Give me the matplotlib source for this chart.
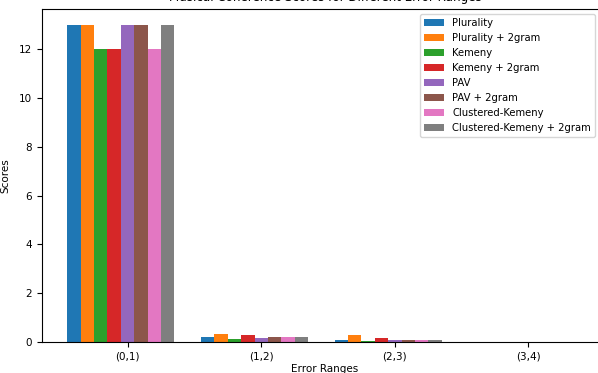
import matplotlib
matplotlib.use("Agg")
import matplotlib.pyplot as plt
import numpy as np

ranges = ["(0,1)", "(1,2)", "(2,3)", "(3,4)"]
methods = ["Plurality", "Plurality + 2gram", "Kemeny", "Kemeny + 2gram",
           "PAV", "PAV + 2gram", "Clustered-Kemeny", "Clustered-Kemeny + 2gram"]
plurality = [13, 0.2, 0.1, 0]
plurality_2gram = [13, 0.33, 0.3, 0]
kemeny = [12, 0.13, 0.04, 0]
kemeny_2gram = [12, 0.3, 0.15, 0]
pav = [13, 0.18, 0.1, 0]
pav_2gram = [13, 0.2, 0.1, 0]
clustered = [12, 0.2, 0.1, 0]
clustered_2gram = [13, 0.2, 0.1, 0]
scores = [plurality, plurality_2gram, kemeny, kemeny_2gram,
          pav, pav_2gram, clustered, clustered_2gram]

fig = plt.figure(figsize=(5.98, 3.73), dpi=100)
# right spine sits past the image edge, as in the cropped original
ax = fig.add_axes([42 / 598, 31 / 373, 566 / 598, 333 / 373])

x = np.arange(len(ranges))
w = 0.1
for i, (name, vals) in enumerate(zip(methods, scores)):
    ax.bar(x + (i - 4) * w, vals, w, label=name)

ax.set_xlim(-0.64, 3.595)
ax.set_ylim(0, 13.65)
ax.set_xticks(x)
ax.set_xticklabels(ranges)
ax.tick_params(labelsize=7.5)
ax.set_xlabel("Error Ranges", fontsize=7.5, labelpad=2)
ax.set_ylabel("Scores", fontsize=7.5, labelpad=6)
ax.set_title("Musical Coherence Scores for Different Error Ranges", fontsize=8.6)
ax.legend(loc="upper right", fontsize=7.2,
          bbox_to_anchor=(595 / 598, 1 - 14 / 373),
          bbox_transform=fig.transFigure, borderaxespad=0)

fig.savefig("out.png", dpi=100)
